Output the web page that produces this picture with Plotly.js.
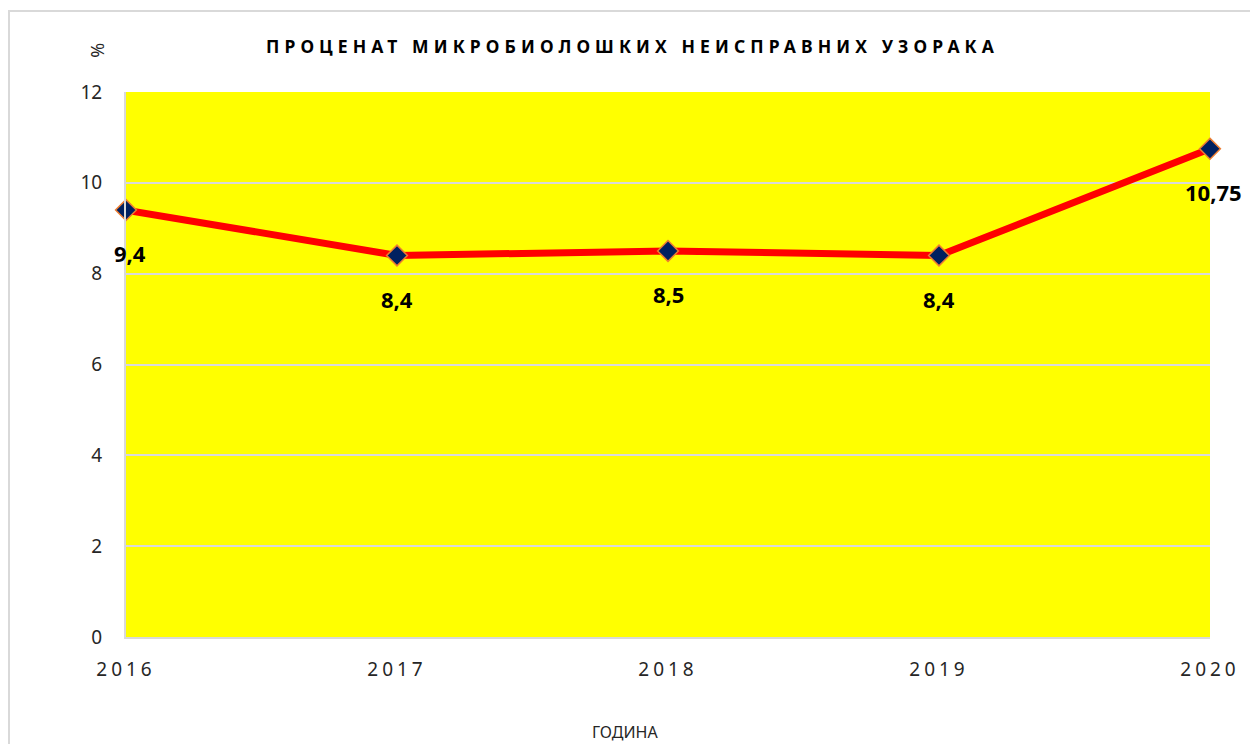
<!DOCTYPE html>
<html>
<head>
<meta charset="utf-8">
<script src="https://cdn.plot.ly/plotly-3.0.1.min.js"></script>
<style>
  html, body { margin: 0; padding: 0; background: #fff; }
  #frame { position: absolute; left: 8px; top: 10px; width: 1260px; height: 760px; border: 2px solid #d9d9d9; box-sizing: border-box; pointer-events: none; }
  #chart { position: absolute; left: 0; top: 0; width: 1250px; height: 744px; }
  .gtitle { letter-spacing: 5.1px; }
  .xtick text { letter-spacing: 4px; }
</style>
</head>
<body>
<div id="chart"></div>
<div id="frame"></div>
<script>
const years = ['2016', '2017', '2018', '2019', '2020'];
const percents = [9.4, 8.4, 8.5, 8.4, 10.75];
const yTicks = [0, 2, 4, 6, 8, 10, 12];

const fontFam = '"Noto Sans", "Open Sans", sans-serif';

const trace = {
  x: years,
  y: percents,
  type: 'scatter',
  mode: 'lines+markers',
  line: { color: '#ff0000', width: 7 },
  marker: { symbol: 'diamond', size: 16, color: '#002060', line: { color: '#ed7d31', width: 1.5 } },
  hoverinfo: 'skip',
  cliponaxis: false
};

const labelAnns = years.map((yr, i) => ({
  x: i, y: percents[i], xref: 'x', yref: 'y',
  text: '<b>' + String(percents[i]).replace('.', ',') + '</b>',
  showarrow: false,
  yshift: -43,
  xshift: i === 0 ? 4 : (i === years.length - 1 ? 3 : 0),
  font: { family: fontFam, size: 22, color: '#000000' }
}));

const layout = {
  width: 1250, height: 744,
  margin: { l: 126, r: 40, t: 92, b: 107 },
  paper_bgcolor: '#ffffff',
  plot_bgcolor: '#ffff00',
  showlegend: false,
  title: {
    text: '<b>ПРОЦЕНАТ МИКРОБИОЛОШКИХ НЕИСПРАВНИХ УЗОРАКА</b>',
    font: { family: fontFam, size: 17.5, color: '#000000' },
    x: 0.506, xanchor: 'center', y: 0.937, yanchor: 'middle'
  },
  xaxis: {
    type: 'category',
    range: [0, years.length - 1],
    showgrid: false,
    showline: true, linecolor: '#d9d9d9', linewidth: 2,
    ticks: '',
    tickfont: { family: fontFam, size: 19, color: '#262626' },
    ticklabelstandoff: 14,
    fixedrange: true
  },
  yaxis: {
    range: [0, 12],
    tickvals: yTicks,
    ticktext: yTicks.map(String),
    showgrid: true, gridcolor: '#d9d9d9', gridwidth: 2,
    showline: true, linecolor: '#d9d9d9', linewidth: 2,
    zeroline: false,
    ticks: '',
    tickfont: { family: fontFam, size: 19, color: '#262626' },
    ticklabelstandoff: 18,
    fixedrange: true
  },
  annotations: labelAnns.concat([
    {
      text: '%', xref: 'paper', yref: 'paper', x: -0.027, y: 1.077,
      xanchor: 'center', yanchor: 'middle',
      showarrow: false, textangle: -90,
      font: { family: fontFam, size: 18, color: '#262626' }
    },
    {
      text: 'ГОДИНА', xref: 'paper', yref: 'paper', x: (625 - 126) / 1084, y: (637 - 732) / 545,
      xanchor: 'center', yanchor: 'middle',
      showarrow: false,
      font: { family: fontFam, size: 16, color: '#262626' }
    }
  ])
};

Plotly.newPlot('chart', [trace], layout, { displayModeBar: false, staticPlot: true });
</script>
</body>
</html>
